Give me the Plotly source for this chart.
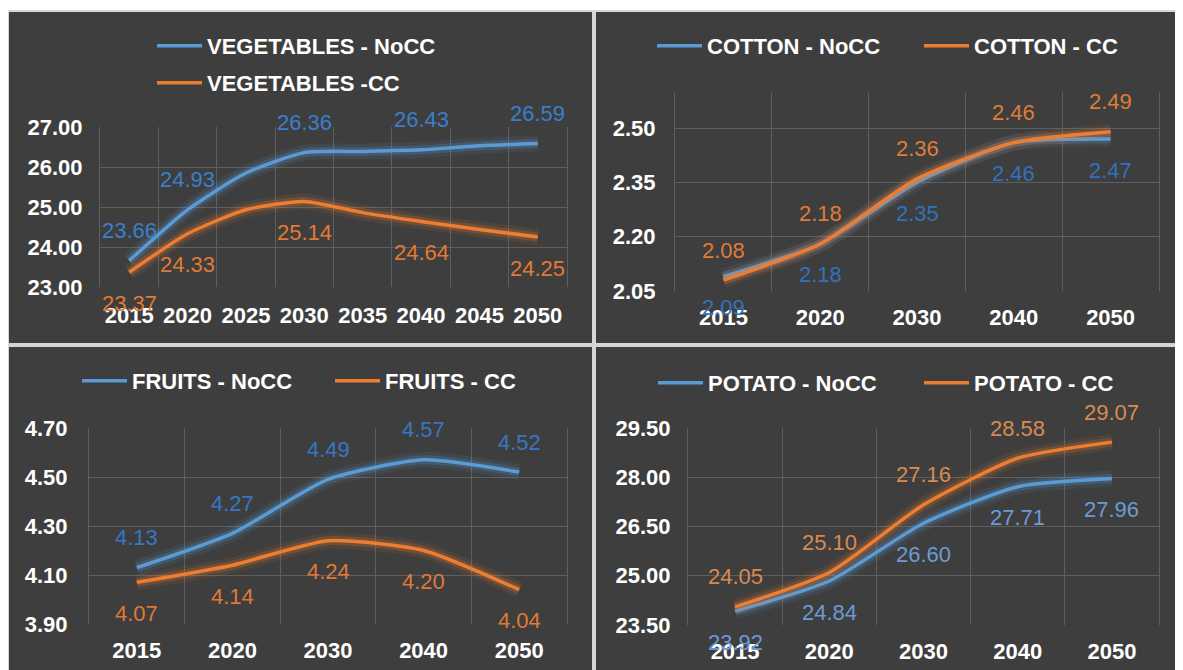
import plotly.graph_objects as go

# the page body adds an 8px margin, so the figure is drawn 8px smaller
OFF = 8
W, H = 1183 - OFF, 670 - OFF

# ---- data ----
veg_years = ["2015", "2020", "2025", "2030", "2035", "2040", "2045", "2050"]
veg_nocc = [23.66, 24.93, 25.85, 26.36, 26.39, 26.43, 26.53, 26.59]
veg_cc = [23.37, 24.33, 24.93, 25.14, 24.86, 24.64, 24.44, 24.25]

years = ["2015", "2020", "2030", "2040", "2050"]
cotton_nocc = [2.09, 2.18, 2.35, 2.46, 2.47]
cotton_cc = [2.08, 2.18, 2.36, 2.46, 2.49]
fruits_nocc = [4.13, 4.27, 4.49, 4.57, 4.52]
fruits_cc = [4.07, 4.14, 4.24, 4.20, 4.04]
potato_nocc = [23.92, 24.84, 26.60, 27.71, 27.96]
potato_cc = [24.05, 25.10, 27.16, 28.58, 29.07]

# years that carry a data label
labeled_years = ["2015", "2020", "2030", "2040", "2050"]

BLUE = "#5b9bd5"
ORANGE = "#ed7d31"
FONT = "Arial, Liberation Sans, sans-serif"
PANEL_BG = "#3e3e3e"
GRID = "#5e5e5e"


def px_x(v):
    return (v - OFF) / W


def px_y(v):
    return 1 - (v - OFF) / H


def rgba(hex_color, a):
    h = hex_color.lstrip("#")
    return "rgba(%d,%d,%d,%s)" % (int(h[0:2], 16), int(h[2:4], 16), int(h[4:6], 16), a)


panels = [
    dict(n="", cats=veg_years, a=veg_nocc, b=veg_cc,
         names=["VEGETABLES - NoCC", "VEGETABLES -CC"],
         box=(100, 567, 127, 287), yr=[23, 27], tick0=23, dtick=1,
         ylen=12, xoff=13, a_up=True, a_col="#3b7fcc", b_col="#e07a35",
         leg=[(157, 46), (157, 83)]),
    dict(n="2", cats=years, a=cotton_nocc, b=cotton_cc,
         names=["COTTON - NoCC", "COTTON - CC"],
         box=(675, 1159, 92, 291), yr=[2.05, 2.60], tick0=2.05, dtick=0.15,
         ylen=14, xoff=11, a_up=False, a_col="#2f72bd", b_col="#de7c38",
         leg=[(657, 46), (924, 46)]),
    dict(n="3", cats=years, a=fruits_nocc, b=fruits_cc,
         names=["FRUITS - NoCC", "FRUITS - CC"],
         box=(89, 567, 428, 624), yr=[3.9, 4.7], tick0=3.9, dtick=0.2,
         ylen=16, xoff=11, a_up=True, a_col="#3677c4", b_col="#de7a36",
         leg=[(82, 381), (335, 381)]),
    dict(n="4", cats=years, a=potato_nocc, b=potato_cc,
         names=["POTATO - NoCC", "POTATO - CC"],
         box=(688, 1159, 428, 625), yr=[23.5, 29.5], tick0=23.5, dtick=1.5,
         ylen=12, xoff=11, a_up=False, a_col="#6b9bd4", b_col="#d98a50",
         leg=[(658, 383), (924, 383)]),
]

fig = go.Figure()
layout = {}
annotations = []
legend_no = 1

for p in panels:
    xa, ya = "x" + p["n"], "y" + p["n"]
    x0, x1, y0, y1 = p["box"]
    for vals, color, name, up, lab_col in [
        (p["a"], BLUE, p["names"][0], p["a_up"], p["a_col"]),
        (p["b"], ORANGE, p["names"][1], not p["a_up"], p["b_col"]),
    ]:
        # soft glow under the line
        for w, a in [(16, 0.10), (9, 0.22)]:
            fig.add_trace(go.Scatter(
                x=p["cats"], y=vals, xaxis=xa, yaxis=ya, mode="lines",
                line=dict(color=rgba(color, a), width=w, shape="spline", smoothing=0.6),
                showlegend=False, hoverinfo="skip"))
        leg_id = "legend" if legend_no == 1 else "legend%d" % legend_no
        lx, ly = p["leg"][0] if color == BLUE else p["leg"][1]
        layout[leg_id] = dict(
            x=px_x(lx - 5), y=px_y(ly), xanchor="left", yanchor="middle",
            bgcolor="rgba(0,0,0,0)", borderwidth=0, itemwidth=45,
            font=dict(family=FONT, size=22, color="#ffffff", weight="bold"))
        fig.add_trace(go.Scatter(
            x=p["cats"], y=vals, xaxis=xa, yaxis=ya, mode="lines", name=name,
            line=dict(color=color, width=3.5, shape="spline", smoothing=0.6),
            legend=leg_id, hoverinfo="skip"))
        legend_no += 1
        for i, (c, v) in enumerate(zip(p["cats"], vals)):
            if c in labeled_years:
                annotations.append(dict(
                    x=i, y=v, xref=xa, yref=ya, text="%.2f" % v, showarrow=False,
                    yshift=30 if up else -31,
                    font=dict(family=FONT, size=22, color=lab_col)))

    suffix = p["n"]
    layout["xaxis" + suffix] = dict(
        domain=[px_x(x0), px_x(x1)], anchor=ya, type="category",
        categoryorder="array", categoryarray=p["cats"],
        range=[-0.5, len(p["cats"]) - 0.5], tickson="boundaries",
        showgrid=True, gridcolor=GRID, gridwidth=1, zeroline=False,
        ticks="", ticklabelstandoff=p["xoff"],
        tickfont=dict(family=FONT, size=22, color="#ffffff", weight="bold"),
        showline=False, fixedrange=True)
    layout["yaxis" + suffix] = dict(
        domain=[px_y(y1), px_y(y0)], anchor=xa, range=p["yr"],
        tick0=p["tick0"], dtick=p["dtick"], tickformat=".2f",
        showgrid=True, gridcolor=GRID, gridwidth=1, zeroline=False,
        showline=True, mirror=True, linecolor=GRID, linewidth=1,
        ticks="outside", ticklen=p["ylen"], tickcolor="rgba(0,0,0,0)",
        tickfont=dict(family=FONT, size=22, color="#ffffff", weight="bold"),
        fixedrange=True)

# panel backgrounds
shapes = [dict(type="rect", xref="paper", yref="paper", x0=px_x(7), x1=px_x(1177),
               y0=px_y(670), y1=px_y(10), fillcolor="#d6d6d6", line=dict(width=0), layer="below")]
for bx0, bx1, by0, by1 in [(9, 592, 12, 343), (596, 1175, 12, 343),
                           (9, 592, 347, 670), (596, 1175, 347, 670)]:
    shapes.append(dict(type="rect", xref="paper", yref="paper", x0=px_x(bx0), x1=px_x(bx1),
                       y0=px_y(by1), y1=px_y(by0), fillcolor=PANEL_BG,
                       line=dict(width=0), layer="below"))

fig.update_layout(
    width=W, height=H, margin=dict(l=0, r=0, t=0, b=0, autoexpand=False),
    paper_bgcolor="#ffffff", plot_bgcolor="rgba(0,0,0,0)",
    shapes=shapes, annotations=annotations, hovermode=False,
    font=dict(family=FONT), **layout)

fig.write_html("out.html")
